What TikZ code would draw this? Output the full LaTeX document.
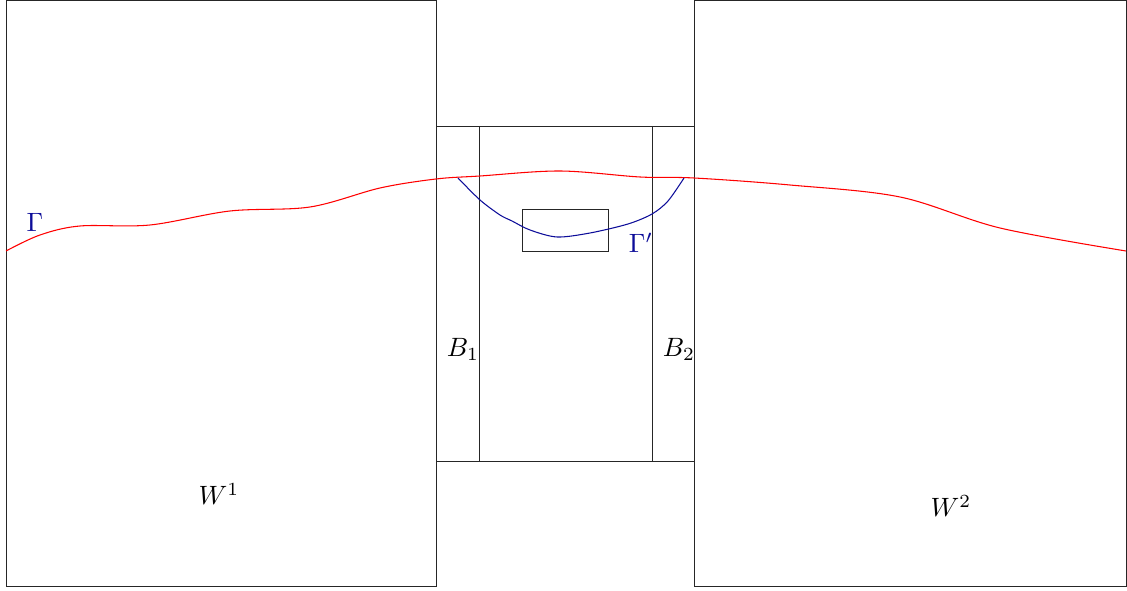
\documentclass[tikz,border=0pt]{standalone}
\begin{document}
\begin{tikzpicture}[x=0.377pt,y=-0.377pt,
  box/.style={draw=black!85,line width=0.3pt},
  gamma/.style={draw=red,line width=0.4pt},
  gammap/.style={draw=navyblue,line width=0.4pt},
  lbl/.style={inner sep=0pt},
  navytext/.style={text=navyblue}]
\definecolor{navyblue}{rgb}{0.05,0.05,0.6}
\useasboundingbox (0,0) rectangle (1127,591);
% outer boxes
\draw[box] (6,0) rectangle (436,586);
\draw[box] (694,0) rectangle (1126,586);
\draw[box] (436,126) rectangle (694,461);
\draw[box] (479,126) -- (479,461);
\draw[box] (652,126) -- (652,461);
\draw[box] (522,209) rectangle (608,251);
% curves
\draw[gamma] plot[smooth,tension=0.55] coordinates {(6,251) (40,235) (80,226) (150,225) (230,211) (310,207) (380,188) (436,179) (480,176) (560,171) (640,177) (694,178) (790,185) (900,197) (1000,228) (1126,251)};
\draw[gammap] plot[smooth,tension=0.5] coordinates {(458,178) (480,200) (500,215) (512,221) (530,230) (557,237) (590,233) (628,224) (652,214) (668,201) (684,178)};
% labels
\node[lbl,navytext] (g) at (35,222) {$\Gamma$};
\node[lbl,navytext] (gp) at (641,243) {$\Gamma'$};
\node[lbl] (b1) at (463,349) {$B_1$};
\node[lbl] (b2) at (679,349) {$B_2$};
\node[lbl] (w1) at (219,494) {$W^1$};
\node[lbl] (w2) at (951,506) {$W^2$};
\end{tikzpicture}
\end{document}
